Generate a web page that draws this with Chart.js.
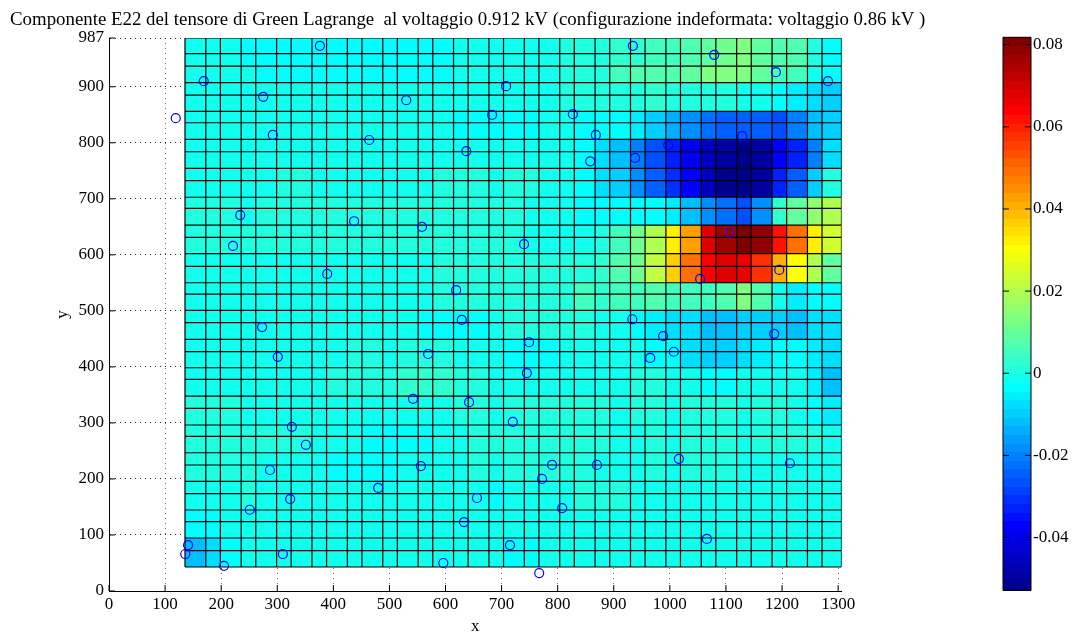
<!DOCTYPE html>
<html><head><meta charset="utf-8">
<style>
html,body{margin:0;padding:0;background:#fff;overflow:hidden}
#wrap{position:relative;width:1077px;height:637px}
#main{position:absolute;left:0;top:0}
#bar{position:absolute;left:960px;top:0}
</style>
<script src="https://cdn.jsdelivr.net/npm/chart.js@4"></script>
</head><body><div id="wrap">
<canvas id="main" width="960" height="637" style="width:960px;height:637px"></canvas>
<canvas id="bar" width="117" height="637" style="width:117px;height:637px"></canvas>
</div>
<script>
const titleText = 'Componente E22 del tensore di Green Lagrange  al voltaggio 0.912 kV (configurazione indeformata: voltaggio 0.86 kV )';
const xTicks = [0,100,200,300,400,500,600,700,800,900,1000,1100,1200,1300];
const yTicks = [0,100,200,300,400,500,600,700,800,900,987];
const colorTicks = [-0.04,-0.02,0,0.02,0.04,0.06,0.08];
const colorMin = -0.0529, colorMax = 0.0818;

// mesh column edges (x) and mesh row edges (y)
const meshX = [135.5,172.6,198.6,235.7,261.7,298.8,324.8,361.9,387.9,425,451,488.1,514.1,551.2,577.2,614.3,640.3,677.4,703.4,740.5,766.5,803.6,829.6,866.7,892.7,929.8,955.8,992.9,1018.9,1056,1082,1119.1,1145.1,1182.2,1208.2,1245.3,1271.3,1306];
const meshY = [42.8,71.9,94.6,123.7,144.6,173.7,195.8,224.9,246.8,276.1,296.3,326.1,348,377.8,398.5,427.1,449.2,478.9,501,530,550.2,579.5,602,631.3,653.2,683,702.8,732.3,754.4,784,806.1,835.8,856.2,885.2,907.5,937,959,987];
// colour band edges in y, top to bottom
const bandY = [987,937,907.5,856.2,806.1,754.4,702.8,653.2,602,550.2,501,449.2,398.5,348,296.3,246.8,195.8,144.6,94.6,42.8];

// E22 in thousandths, one row per band (top to bottom), one value per mesh column
const e0 = [-1.5,-1.5,-1.5,-3.6,-3.6,-3.6,-3.6,-3.6,-3.6,-3.6,-3.6,-3.6,-3.6,-3.6,-3.6,-1.5,-1.5,-1.5,-1.5,-1.5,-1.5,0.6,0.6,0.6,2.7,2.7,4.8,4.8,6.9,9,11.1,13.2,9,6.9,6.9,0.6,-3.6];
const e1 = [-1.5,-1.5,-1.5,-1.5,-3.6,-3.6,-3.6,-3.6,-3.6,-3.6,-3.6,-3.6,-3.6,-3.6,-3.6,-1.5,-1.5,-1.5,-1.5,-1.5,-1.5,0.6,0.6,0.6,4.8,6.9,6.9,6.9,9,13.2,13.2,13.2,9,4.8,4.8,-1.5,-3.6];
const e2 = [-1.5,-1.5,-1.5,-1.5,-1.5,-1.5,-1.5,-1.5,-1.5,-1.5,-1.5,-1.5,-1.5,-1.5,-1.5,-1.5,-1.5,-1.5,-1.5,-1.5,-1.5,0.6,0.6,0.6,0.6,0.6,2.7,0.6,0.6,0.6,0.6,-1.5,-1.5,-3.6,-5.7,-7.8,-9.9];
const e3 = [-1.5,-1.5,-1.5,-1.5,-1.5,-1.5,-1.5,-1.5,-1.5,-1.5,-1.5,-1.5,-1.5,-1.5,-1.5,-3.6,-3.6,-3.6,-3.6,-3.6,-1.5,-1.5,-3.6,-3.6,-3.6,-5.7,-9.9,-14.1,-18.3,-22.5,-24.6,-24.6,-24.6,-26.7,-20.4,-12,-9.9];
const e4 = [-1.5,-1.5,-1.5,-1.5,-1.5,-1.5,-1.5,-1.5,-1.5,-1.5,-1.5,-1.5,-1.5,-1.5,-1.5,-1.5,-1.5,-1.5,-1.5,-1.5,-1.5,-1.5,-3.6,-7.8,-12,-20.4,-26.7,-33,-39.3,-45.6,-49.8,-51.9,-49.8,-37.2,-33,-20.4,-7.8];
const e5 = [-1.5,-1.5,-1.5,-1.5,-1.5,0.6,0.6,-1.5,-1.5,-1.5,-1.5,-1.5,-1.5,-1.5,0.6,0.6,0.6,-1.5,0.6,0.6,-1.5,-1.5,-3.6,-7.8,-9.9,-18.3,-24.6,-30.9,-37.2,-45.6,-51.9,-51.9,-49.8,-33,-24.6,-9.9,0.6];
const e6 = [0.6,0.6,0.6,-1.5,0.6,0.6,0.6,0.6,0.6,0.6,0.6,0.6,0.6,0.6,0.6,0.6,0.6,0.6,0.6,-1.5,-1.5,-1.5,-3.6,-3.6,-3.6,-3.6,-3.6,-5.7,-12,-18.3,-22.5,-26.7,-18.3,2.7,9,15.3,19.5];
const e7 = [0.6,0.6,0.6,0.6,0.6,0.6,0.6,0.6,0.6,0.6,0.6,0.6,0.6,0.6,0.6,0.6,0.6,0.6,0.6,-1.5,-1.5,-1.5,-1.5,0.6,4.8,11.1,19.5,32,42.6,67.8,76.2,80.4,78.3,61.5,48.9,32,23.7];
const e8 = [-1.5,-1.5,-1.5,-1.5,-1.5,-1.5,-1.5,-1.5,-1.5,-1.5,-1.5,-1.5,-1.5,-1.5,0.6,0.6,0.6,0.6,0.6,0.6,0.6,0.6,0.6,2.7,6.9,11.1,21.6,36.3,48.9,63.6,67.8,65.7,57.3,40.5,30,19.5,9];
const e9 = [-1.5,-1.5,-1.5,-1.5,-1.5,-1.5,-1.5,-1.5,-1.5,-1.5,-1.5,-1.5,-1.5,-1.5,0.6,0.6,0.6,0.6,0.6,0.6,0.6,0.6,4.8,2.7,4.8,4.8,6.9,4.8,4.8,4.8,6.9,13.2,6.9,-1.5,-5.7,-3.6,-3.6];
const e10 = [-1.5,-1.5,-1.5,-1.5,-1.5,-1.5,-1.5,-1.5,-1.5,-1.5,-1.5,-1.5,-1.5,-3.6,-3.6,-3.6,-3.6,-1.5,0.6,0.6,0.6,0.6,0.6,-1.5,-1.5,-3.6,-5.7,-7.8,-7.8,-12,-12,-9.9,-9.9,-9.9,-12,-7.8,-7.8];
const e11 = [-1.5,-1.5,-1.5,-1.5,-1.5,-1.5,-1.5,-1.5,-1.5,0.6,0.6,-1.5,0.6,0.6,0.6,-1.5,-1.5,-1.5,-3.6,-3.6,-3.6,-1.5,-1.5,-1.5,-1.5,-1.5,-3.6,-3.6,-7.8,-9.9,-9.9,-7.8,-5.7,-3.6,-3.6,-5.7,-7.8];
const e12 = [-1.5,-1.5,-1.5,-1.5,-1.5,-1.5,-1.5,-1.5,0.6,0.6,0.6,0.6,2.7,2.7,2.7,0.6,0.6,-1.5,-1.5,-1.5,-1.5,-1.5,-1.5,-1.5,-1.5,0.6,0.6,-1.5,-1.5,-3.6,-3.6,-1.5,-1.5,-1.5,-1.5,-5.7,-12];
const e13 = [0.6,0.6,0.6,-1.5,-1.5,-1.5,-1.5,-1.5,-1.5,-1.5,-1.5,-1.5,-1.5,-1.5,-1.5,0.6,0.6,-1.5,0.6,0.6,0.6,0.6,0.6,0.6,-1.5,0.6,0.6,-1.5,0.6,0.6,0.6,-1.5,0.6,0.6,-1.5,-3.6,-5.7];
const e14 = [0.6,0.6,0.6,0.6,0.6,0.6,0.6,-1.5,-1.5,-1.5,-3.6,-3.6,-3.6,-3.6,-1.5,-1.5,0.6,0.6,0.6,0.6,0.6,0.6,0.6,0.6,-1.5,-1.5,0.6,-1.5,0.6,0.6,0.6,-1.5,0.6,0.6,0.6,0.6,-1.5];
const e15 = [0.6,0.6,0.6,0.6,-1.5,-1.5,-1.5,-1.5,-3.6,-3.6,-3.6,-3.6,-1.5,-1.5,-1.5,-1.5,0.6,-1.5,0.6,0.6,0.6,0.6,0.6,-1.5,-1.5,-1.5,0.6,-1.5,0.6,0.6,0.6,-1.5,-1.5,-1.5,-1.5,-1.5,-1.5];
const e16 = [-1.5,-1.5,-1.5,0.6,-1.5,-1.5,-1.5,-1.5,-1.5,-1.5,-1.5,-1.5,-1.5,-1.5,-1.5,-1.5,-1.5,-3.6,-1.5,-1.5,-1.5,-1.5,0.6,0.6,0.6,-1.5,-1.5,-1.5,-1.5,-1.5,-1.5,-1.5,-1.5,-1.5,-1.5,-1.5,-1.5];
const e17 = [-3.6,-3.6,-1.5,-1.5,-1.5,-1.5,-1.5,-1.5,-1.5,-1.5,-1.5,-1.5,-1.5,-1.5,-1.5,-1.5,-1.5,-1.5,-1.5,-1.5,-1.5,-1.5,-1.5,-1.5,-1.5,-1.5,-1.5,-1.5,-1.5,-1.5,-1.5,-1.5,-1.5,-1.5,-1.5,-1.5,-1.5];
const e18 = [-12,-7.8,-3.6,-1.5,-1.5,-1.5,-1.5,-1.5,-1.5,-1.5,-1.5,-1.5,-1.5,-1.5,-1.5,-1.5,-1.5,-1.5,-3.6,-3.6,-1.5,-1.5,-1.5,-1.5,-1.5,-1.5,-1.5,-1.5,-1.5,-1.5,-1.5,-1.5,-1.5,-1.5,-1.5,-1.5,-1.5];
const bandValues = [e0,e1,e2,e3,e4,e5,e6,e7,e8,e9,e10,e11,e12,e13,e14,e15,e16,e17,e18];

// measurement markers
const pointX = [169,275,376,292,464,530,637,683,708,827,868,858,119,234,437,558,740,221,389,619,273,301,629,749,569,745,542,642,326,720,351,556,287,790,870,772,480,323,656,251,808,633,141,715,136,310,205,596,767,934,1079,1189,1282,1129,997,938,1106,1195,1054,933,988,1186,1007,965,1016,1214,1066];
const pointY = [910,882,973,814,805,876,785,850,901,851,814,767,844,671,660,650,619,616,566,537,471,418,484,444,423,389,343,337,293,302,261,223,216,225,225,200,184,164,166,145,148,123,82,82,66,66,45,50,32,973,957,926,910,812,796,773,639,573,557,485,455,459,427,416,236,228,93];

const serif = '"Liberation Serif","Times New Roman",serif';

function jet(v){
  const n = 64;
  let k = Math.floor((v - colorMin) / (colorMax - colorMin) * n);
  k = Math.max(0, Math.min(n - 1, k)) + 1;
  const p = k / n;
  const ramp = c => Math.max(0, Math.min(1, 1.5 - Math.abs(4 * p - c)));
  const b = k <= 8 ? 0.5 + k / 16 : ramp(1);
  return `rgb(${Math.round(ramp(3) * 255)},${Math.round(ramp(2) * 255)},${Math.round(b * 255)})`;
}

class HeatCell extends Chart.Element {
  draw(ctx){
    ctx.fillStyle = this.color;
    ctx.fillRect(this.left, this.top, this.w, this.h);
  }
}
HeatCell.id = 'heatCell';
HeatCell.defaults = {};

class HeatController extends Chart.DatasetController {
  update(){
    const meta = this._cachedMeta;
    const xs = meta.xScale, ys = meta.yScale;
    const data = this.getDataset().data;
    meta.data.forEach((el, i) => {
      const d = data[i];
      const l = Math.round(xs.getPixelForValue(d.x)), r = Math.round(xs.getPixelForValue(d.x2));
      const t = Math.round(ys.getPixelForValue(d.y2)), b = Math.round(ys.getPixelForValue(d.y));
      Object.assign(el, {x: l, y: t, left: l, top: t, w: r - l, h: b - t, color: jet(d.v)});
    });
  }
  draw(){
    const ctx = this.chart.ctx;
    this._cachedMeta.data.forEach(el => el.draw(ctx));
  }
}
HeatController.id = 'heat';
HeatController.defaults = {dataElementType: 'heatCell'};
Chart.register(HeatController, HeatCell);

const innerTicks = {
  id: 'innerTicks',
  afterDatasetsDraw(chart){
    const ctx = chart.ctx, a = chart.chartArea, len = 6;
    ctx.save();
    ctx.strokeStyle = '#000';
    ctx.lineWidth = 1;
    ctx.beginPath();
    if (chart.canvas.id === 'main'){
      chart.scales.x.ticks.forEach(t => {
        const p = chart.scales.x.getPixelForValue(t.value);
        ctx.moveTo(p, a.bottom); ctx.lineTo(p, a.bottom - len);
      });
      chart.scales.y.ticks.forEach(t => {
        const p = chart.scales.y.getPixelForValue(t.value);
        ctx.moveTo(a.left, p); ctx.lineTo(a.left + len, p);
      });
    } else {
      chart.scales.y.ticks.forEach(t => {
        const p = chart.scales.y.getPixelForValue(t.value);
        ctx.moveTo(a.left, p); ctx.lineTo(a.left + len, p);
        ctx.moveTo(a.right, p); ctx.lineTo(a.right - len, p);
      });
      ctx.rect(a.left, a.top, a.right - a.left, a.bottom - a.top);
    }
    ctx.stroke();
    ctx.restore();
  }
};

const heatCells = [];
bandValues.forEach((row, r) => row.forEach((v, c) => {
  heatCells.push({x: meshX[c], x2: meshX[c + 1], y: bandY[r + 1], y2: bandY[r], v: v / 1000});
}));

const meshLines = [];
const xLo = meshX[0], xHi = meshX[meshX.length - 1], yLo = meshY[0], yHi = meshY[meshY.length - 1];
meshY.forEach(y => { meshLines.push({x: xLo, y}, {x: xHi, y}, {x: NaN, y: NaN}); });
meshX.forEach(x => { meshLines.push({x, y: yLo}, {x, y: yHi}, {x: NaN, y: NaN}); });

const tickFont = {family: serif, size: 17};

new Chart(document.getElementById('main'), {
  type: 'scatter',
  data: {datasets: [
    {type: 'scatter', label: 'markers', order: 1, data: pointX.map((x, i) => ({x, y: pointY[i]})),
     pointStyle: 'circle', pointRadius: 4.5, pointBorderWidth: 1.2, pointBorderColor: '#0000ff', pointBackgroundColor: 'rgba(0,0,0,0)', showLine: false, clip: false},
    {type: 'line', label: 'mesh', order: 2, data: meshLines, borderColor: '#000', borderWidth: 1.2, pointRadius: 0, spanGaps: false, tension: 0, fill: false},
    {type: 'heat', label: 'E22', order: 3, parsing: false, normalized: false, data: heatCells}
  ]},
  options: {
    responsive: false, animation: false, events: [],
    layout: {padding: {left: 10, top: 0, right: 0, bottom: 0}},
    plugins: {
      legend: {display: false}, tooltip: {enabled: false},
      title: {display: true, text: titleText, align: 'start', color: '#000',
        font: {family: serif, size: 18.85, weight: 'normal', lineHeight: 1.2}, padding: {top: 9, bottom: 6.4}}
    },
    scales: {
      x: {type: 'linear', min: 0, max: 1306,
        afterBuildTicks: s => { s.ticks = xTicks.map(value => ({value})); },
        afterFit: s => { s.height = 46; },
        title: {display: true, text: 'x', color: '#000', font: {family: serif, size: 17}, padding: {top: 0, bottom: 0}},
        ticks: {color: '#000', font: tickFont, padding: 3, maxRotation: 0, autoSkip: false, callback: v => String(v)},
        grid: {color: '#666', drawTicks: false, tickLength: 0, lineWidth: 1},
        border: {color: '#000', width: 1, dash: [1, 4]}},
      y: {type: 'linear', min: 0, max: 987,
        afterBuildTicks: s => { s.ticks = yTicks.map(value => ({value})); },
        afterFit: s => { s.width = 99; },
        title: {display: true, text: 'y', color: '#000', font: {family: serif, size: 17}, padding: {top: 42, bottom: 0}},
        ticks: {color: '#000', font: tickFont, padding: 5, autoSkip: false, callback: v => String(v)},
        grid: {color: '#222', drawTicks: false, tickLength: 0, lineWidth: 1},
        border: {color: '#000', width: 1, dash: [1, 4]}},
      gutter: {type: 'linear', position: 'right', min: 0, max: 1,
        afterFit: s => { s.width = 118.5; },
        ticks: {display: false}, grid: {display: false, drawTicks: false}, border: {display: false}}
    }
  },
  plugins: [innerTicks]
});

const colorLevels = [];
for (let i = 0; i < 64; i++) {
  const lo = colorMin + (colorMax - colorMin) * i / 64;
  const hi = colorMin + (colorMax - colorMin) * (i + 1) / 64;
  colorLevels.push({x: 0, x2: 1, y: lo, y2: hi, v: (lo + hi) / 2});
}

new Chart(document.getElementById('bar'), {
  type: 'scatter',
  data: {datasets: [{type: 'heat', label: 'colour scale', parsing: false, data: colorLevels}]},
  options: {
    responsive: false, animation: false, events: [],
    layout: {padding: {left: 43, top: 37.3, right: 0, bottom: 46.5}},
    plugins: {legend: {display: false}, tooltip: {enabled: false}, title: {display: false}},
    scales: {
      x: {type: 'linear', min: 0, max: 1, display: false},
      y: {type: 'linear', position: 'right', min: colorMin, max: colorMax,
        afterBuildTicks: s => { s.ticks = colorTicks.map(value => ({value})); },
        afterFit: s => { s.width = 46; },
        ticks: {color: '#000', font: tickFont, padding: 2, autoSkip: false, callback: v => String(v)},
        grid: {display: false, drawTicks: false, tickLength: 0},
        border: {display: false}}
    }
  },
  plugins: [innerTicks]
});
</script>
</body></html>
